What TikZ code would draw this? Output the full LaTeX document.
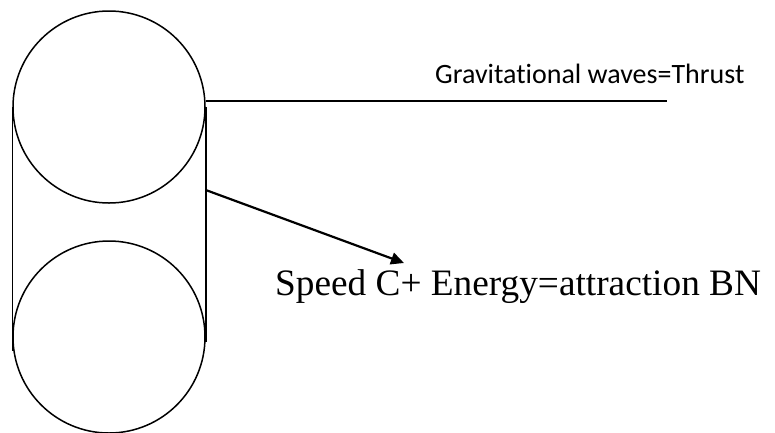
\documentclass[tikz,border=0pt]{standalone}
\usepackage{fontspec}
\setmainfont{Liberation Serif}
\newfontfamily\labelfont[Ligatures=NoCommon]{Carlito}
\usetikzlibrary{positioning,arrows.meta}

\begin{document}
\begin{tikzpicture}[x=1pt,y=-1pt,
    ball/.style={circle, draw, line width=1.5pt, minimum size=192pt, inner sep=0pt},
    rod/.style={line width=1.5pt},
    pointer/.style={line width=2.2pt, -{Triangle[length=13pt,width=12pt]}}]
    \useasboundingbox (0,0) rectangle (775,432);
    % the two spheres
    \node[ball] (upper) at (109,107) {};
    \node[ball] (lower) at (109,337) {};
    \draw[rod] (upper.west) -- ([yshift=-14pt]lower.west);
    \draw[rod] (upper.east) -- ([yshift=-5pt]lower.east);
    % labels
    \node[anchor=base west, inner sep=0pt, font=\labelfont\fontsize{28}{33}\selectfont] (thrust) at (435,83) {Gravitational waves=Thrust};
    \node[anchor=base west, inner sep=0pt, font=\fontsize{37.3}{44}\selectfont] (speed) at (275,295) {Speed C+ Energy=attraction BN};
    \coordinate (lineend) at (667,101);
    \coordinate (start) at (upper.east |- 0,190);
    \coordinate (tip) at (404,263);
    \draw[rod] (upper.east |- lineend) -- (lineend);
    \draw[pointer] (start) -- (tip);
\end{tikzpicture}
\end{document}
